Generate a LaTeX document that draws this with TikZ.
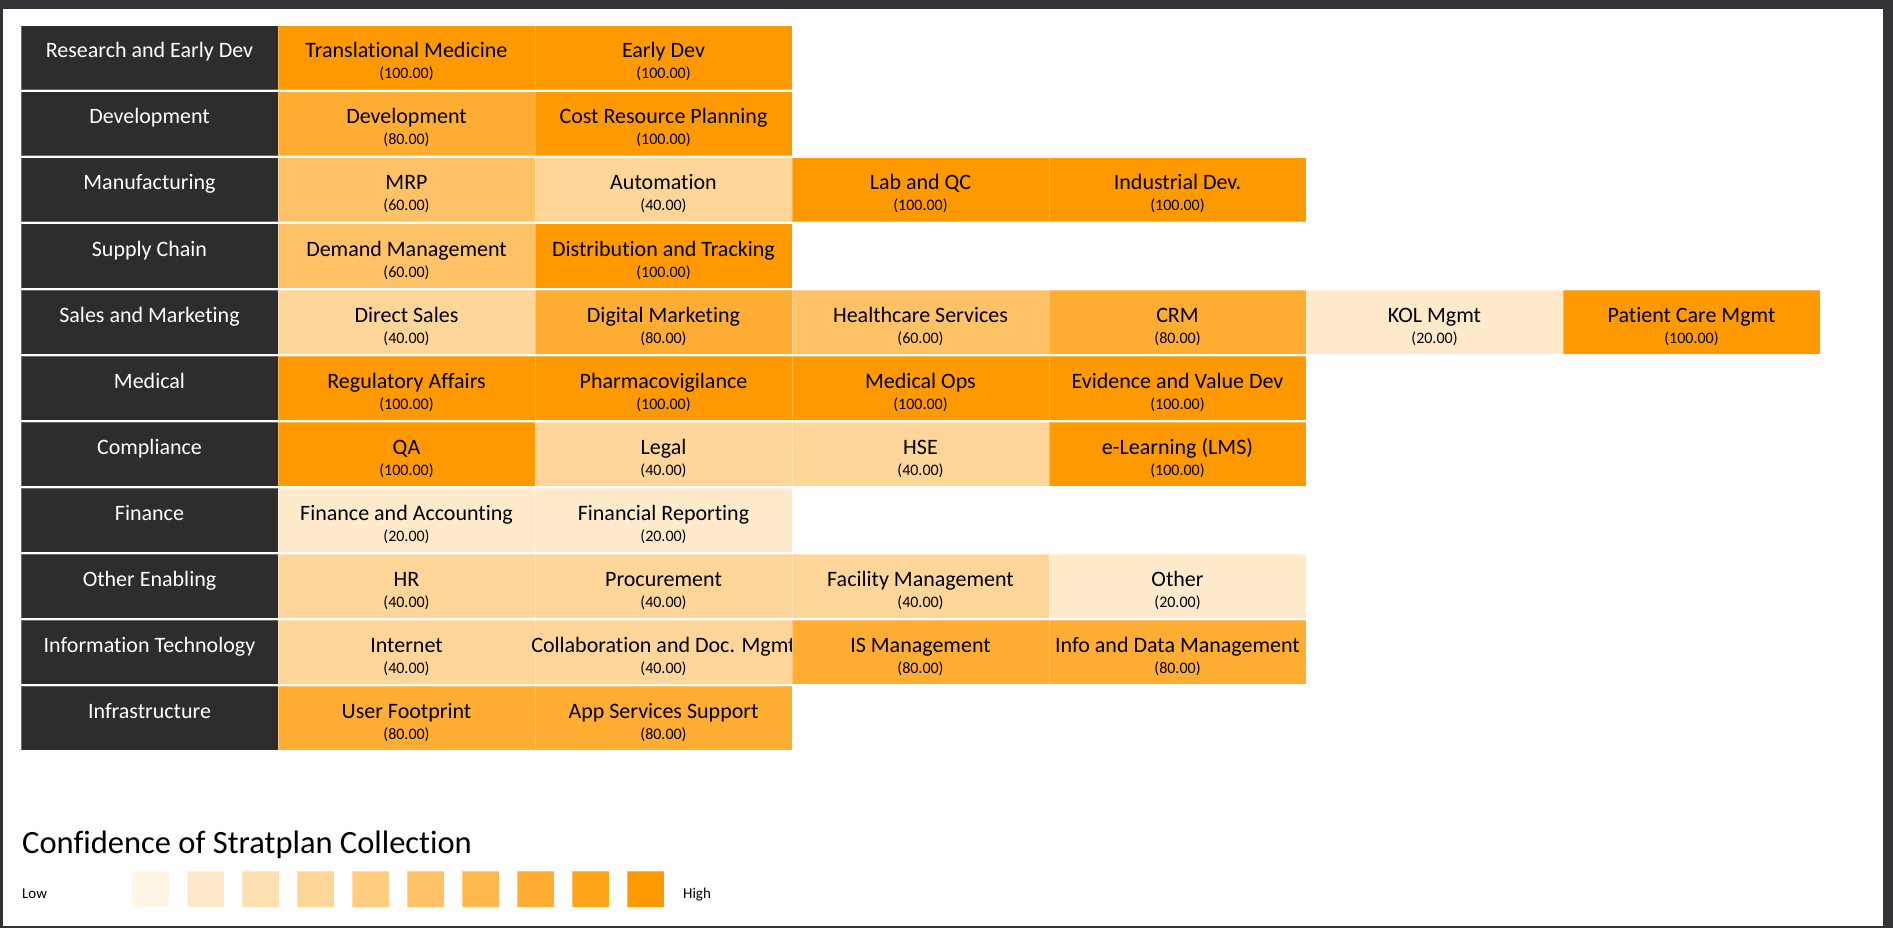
\documentclass[tikz,border=0pt]{standalone}
\usepackage{fontspec}
\setmainfont{Carlito}[Ligatures=NoCommon]
\definecolor{orng}{RGB}{255,153,0}
\definecolor{labelgray}{RGB}{45,45,45}
\definecolor{framecol}{RGB}{51,51,55}
\tikzset{
  cellbox/.style={rectangle, minimum width=257pt, minimum height=64pt, inner sep=0pt, outer sep=0pt, draw=white, draw opacity=0.3, line width=1pt},
  legbox/.style={rectangle, minimum width=37pt, minimum height=36pt, inner sep=0pt, outer sep=0pt, draw=white, draw opacity=0.3, line width=1pt},
  maintext/.style={anchor=base, inner sep=0pt, font=\fontsize{22}{26}\selectfont},
  valtext/.style={anchor=base, inner sep=0pt, font=\fontsize{16}{19}\selectfont},
  labtext/.style={anchor=base, inner sep=0pt, text=white, font=\fontsize{22}{26}\selectfont},
}
\newcommand\rowlabel[3]{%
  \node[cellbox, fill=labelgray] (#1) at (149.5,{-8+66*#2}) {};
  \node[labtext] (#1t) at ([yshift=-32pt]#1.north) {#3};
}
\newcommand\cellx[6]{%
  \node[cellbox, fill=orng!#4!white] (#1) at ({149.5+257*#3},{-8+66*#2}) {};
  \node[maintext] (#1t) at ([yshift=-32pt]#1.north) {#5};
  \node[valtext] (#1v) at ([yshift=-53pt]#1.north) {(#6)};
}
\begin{document}
\begin{tikzpicture}[x=1pt,y=-1pt]
\useasboundingbox (0,0) rectangle (1893,928);
\fill[framecol] (0,0) rectangle (1893,928);
\fill[white] (3,9) rectangle (1883,926);
% row labels
\rowlabel{l1}{1}{Research and Early Dev}
\rowlabel{l2}{2}{Development}
\rowlabel{l3}{3}{Manufacturing}
\rowlabel{l4}{4}{Supply Chain}
\rowlabel{l5}{5}{Sales and Marketing}
\rowlabel{l6}{6}{Medical}
\rowlabel{l7}{7}{Compliance}
\rowlabel{l8}{8}{Finance}
\rowlabel{l9}{9}{Other Enabling}
\rowlabel{l10}{10}{Information Technology}
\rowlabel{l11}{11}{Infrastructure}
% cells
\cellx{a1}{1}{1}{100}{Translational Medicine}{100.00}
\cellx{a2}{1}{2}{100}{Early Dev}{100.00}
\cellx{b1}{2}{1}{80}{Development}{80.00}
\cellx{b2}{2}{2}{100}{Cost Resource Planning}{100.00}
\cellx{c1}{3}{1}{60}{MRP}{60.00}
\cellx{c2}{3}{2}{40}{Automation}{40.00}
\cellx{c3}{3}{3}{100}{Lab and QC}{100.00}
\cellx{c4}{3}{4}{100}{Industrial Dev.}{100.00}
\cellx{d1}{4}{1}{60}{Demand Management}{60.00}
\cellx{d2}{4}{2}{100}{Distribution and Tracking}{100.00}
\cellx{e1}{5}{1}{40}{Direct Sales}{40.00}
\cellx{e2}{5}{2}{80}{Digital Marketing}{80.00}
\cellx{e3}{5}{3}{60}{Healthcare Services}{60.00}
\cellx{e4}{5}{4}{80}{CRM}{80.00}
\cellx{e5}{5}{5}{20}{KOL Mgmt}{20.00}
\cellx{e6}{5}{6}{100}{Patient Care Mgmt}{100.00}
\cellx{f1}{6}{1}{100}{Regulatory Affairs}{100.00}
\cellx{f2}{6}{2}{100}{Pharmacovigilance}{100.00}
\cellx{f3}{6}{3}{100}{Medical Ops}{100.00}
\cellx{f4}{6}{4}{100}{Evidence and Value Dev}{100.00}
\cellx{g1}{7}{1}{100}{QA}{100.00}
\cellx{g2}{7}{2}{40}{Legal}{40.00}
\cellx{g3}{7}{3}{40}{HSE}{40.00}
\cellx{g4}{7}{4}{100}{e-Learning (LMS)}{100.00}
\cellx{h1}{8}{1}{20}{Finance and Accounting}{20.00}
\cellx{h2}{8}{2}{20}{Financial Reporting}{20.00}
\cellx{i1}{9}{1}{40}{HR}{40.00}
\cellx{i2}{9}{2}{40}{Procurement}{40.00}
\cellx{i3}{9}{3}{40}{Facility Management}{40.00}
\cellx{i4}{9}{4}{20}{Other}{20.00}
\cellx{j1}{10}{1}{40}{Internet}{40.00}
\cellx{j2}{10}{2}{40}{Collaboration and Doc. Mgmt}{40.00}
\cellx{j3}{10}{3}{80}{IS Management}{80.00}
\cellx{j4}{10}{4}{80}{Info and Data Management}{80.00}
\cellx{k1}{11}{1}{80}{User Footprint}{80.00}
\cellx{k2}{11}{2}{80}{App Services Support}{80.00}
% legend
\node[anchor=base west, inner sep=0pt, font=\fontsize{32.5}{38}\selectfont] (title) at (22,853) {Confidence of Stratplan Collection};
\node[anchor=base west, inner sep=0pt, font=\fontsize{15}{18}\selectfont] (low) at (22,898) {Low};
\foreach \i in {1,...,10}{
  \pgfmathtruncatemacro\pct{10*\i}
  \node[legbox, fill=orng!\pct!white] (leg\i) at ({150.5+55*(\i-1)},889) {};
}
\node[anchor=base west, inner sep=0pt, font=\fontsize{15}{18}\selectfont] (high) at (683,898) {High};
\end{tikzpicture}
\end{document}
